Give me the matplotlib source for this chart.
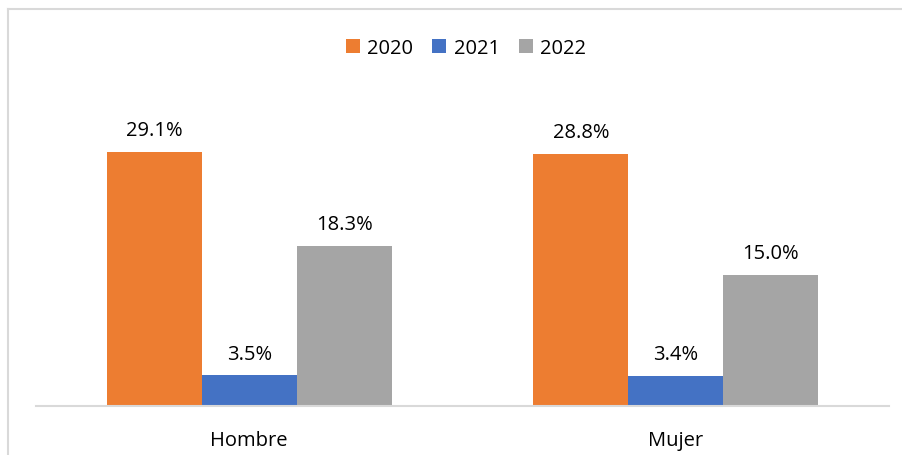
import matplotlib
matplotlib.use("Agg")
import matplotlib.pyplot as plt
from matplotlib.lines import Line2D
import numpy as np

categories = ["Hombre", "Mujer"]
years = ["2020", "2021", "2022"]
values = {
    "2020": [29.1, 28.8],
    "2021": [3.5, 3.4],
    "2022": [18.3, 15.0],
}
colors = ["#ED7D31", "#4472C4", "#A5A5A5"]

plt.rcParams['font.family'] = ['Open Sans', 'DejaVu Sans']

W, H = 903, 456
fig = plt.figure(figsize=(W/100, H/100), dpi=100)
ax = fig.add_axes([36/W, 1-407/H, (889-36)/W, (407-101)/H])

x = np.arange(len(categories))
bw = 0.2225
for i, (yr, c) in enumerate(zip(years, colors)):
    xs = x + (i-1)*bw
    bars = ax.bar(xs, values[yr], width=bw, color=c, label=yr, zorder=2)
    for b, v in zip(bars, values[yr]):
        ax.annotate(f"{v:.1f}%", (b.get_x()+b.get_width()/2, v), xytext=(0, 8.5),
                    textcoords="offset points", ha="center", va="bottom",
                    fontsize=14.5, color="#000000")

ax.set_xlim(-0.5, 1.5)
ax.set_ylim(0, 35)
ax.set_yticks([])
ax.set_xticks(x)
ax.set_xticklabels(categories, fontsize=14.5)
ax.tick_params(axis='x', length=0, pad=17)
for s in ["top", "right", "left"]:
    ax.spines[s].set_visible(False)
ax.spines["bottom"].set_color("#D9D9D9")
ax.spines["bottom"].set_linewidth(1.5)

leg = fig.legend(loc="center", bbox_to_anchor=(466/W, 1-49/H), ncol=3, frameon=False,
                 fontsize=14.5, handlelength=0.7, handleheight=0.7, handletextpad=0.35,
                 columnspacing=0.95)

fig.add_artist(Line2D([8/W, 8/W], [0, 1-10/H], transform=fig.transFigure,
                      color="#D9D9D9", linewidth=1.5))
fig.add_artist(Line2D([8/W, 1], [1-10/H, 1-10/H], transform=fig.transFigure,
                      color="#D9D9D9", linewidth=1.5))

fig.savefig("out.png", dpi=100)
